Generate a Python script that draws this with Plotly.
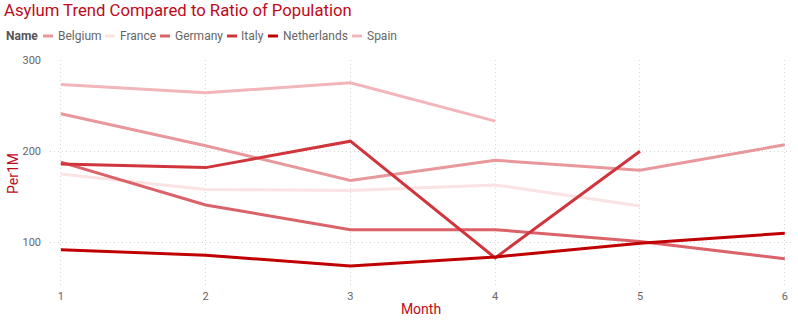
import plotly.graph_objects as go

months = [1, 2, 3, 4, 5, 6]
belgium = [241, 206, 168, 190, 179, 207]
france = [175, 158, 157, 163, 140, None]
germany = [188, 141, 114, 114, 101, 82]
italy = [186, 182, 211, 83, 200, None]
netherlands = [92, 86, 74, 84, 99, 110]
spain = [273, 264, 275, 233, None, None]

names = ["Belgium", "France", "Germany", "Italy", "Netherlands", "Spain"]
series = [belgium, france, germany, italy, netherlands, spain]
colors = ["#E8979B", "#FBE2E3", "#DA6268", "#CF353B", "#C00000", "#F2B6BA"]

W, H = 798, 321
ML, MR, MT, MB = 50, 6, 60, 33
PW, PH = W - ML - MR, H - MT - MB

fig = go.Figure()
for n, s, c in zip(names, series, colors):
    fig.add_trace(go.Scatter(x=months, y=s, name=n, mode="lines",
                             line=dict(color=c, width=3), showlegend=False,
                             connectgaps=False))

red = "#C00A1A"
gray = "#666666"

def px_x(px):
    return (px - ML) / PW

def px_y(py):
    return (H - MB - py) / PH

# legend (manual, compact like the original)
legend_pos = [(43, 56), (105, 118), (160, 173), (227, 239), (268, 281), (352, 365)]
annotations = [dict(text="<b>Name</b>", x=px_x(4), y=px_y(36), xref="paper", yref="paper",
                    xanchor="left", yanchor="middle", showarrow=False,
                    font=dict(family="Roboto", size=12, color="#555555"))]
shapes = []
for (sx, tx), n, c in zip(legend_pos, names, colors):
    shapes.append(dict(type="line", xref="paper", yref="paper",
                       x0=px_x(sx), x1=px_x(sx + 10), y0=px_y(36), y1=px_y(36),
                       line=dict(color=c, width=3)))
    annotations.append(dict(text=n, x=px_x(tx), y=px_y(36), xref="paper", yref="paper",
                            xanchor="left", yanchor="middle", showarrow=False,
                            font=dict(family="Roboto", size=12, color=gray)))

# y-axis title
annotations.append(dict(text="Per1M", x=px_x(13), y=0.5, xref="paper", yref="paper",
                        xanchor="center", yanchor="middle", textangle=-90, showarrow=False,
                        font=dict(family="Roboto", size=14, color=red)))

grid = dict(showgrid=True, gridcolor="#D6D6D6", griddash="1px,3px", gridwidth=1,
            zeroline=False, showline=False)

fig.update_layout(
    width=W, height=H,
    margin=dict(l=ML, r=MR, t=MT, b=MB),
    paper_bgcolor="white", plot_bgcolor="white",
    title=dict(text="Asylum Trend Compared to Ratio of Population",
               x=4 / W, xanchor="left", xref="container",
               y=1 - 10 / H, yanchor="middle", yref="container",
               font=dict(family="Roboto", size=16.7, color=red)),
    annotations=annotations,
    shapes=shapes,
    xaxis=dict(range=[0.925, 6.05], tickvals=months, ticktext=[str(m) for m in months],
               tickfont=dict(family="Roboto", size=11, color=gray),
               title=dict(text="Month", font=dict(family="Roboto", size=14, color=red),
                          standoff=2), **grid),
    yaxis=dict(range=[50, 300], tickvals=[100, 200, 300], ticklabelstandoff=8,
               tickfont=dict(family="Roboto", size=11, color=gray), **grid),
)

fig.write_html("out.html")
